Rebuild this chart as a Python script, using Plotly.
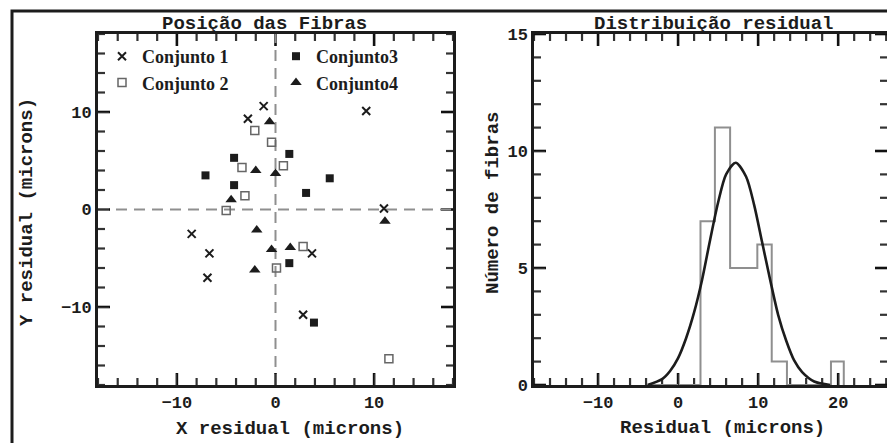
import plotly.graph_objects as go

W, H = 887, 443

# ---- Left panel: fibre positions (microns) ----
c1_x = [-1.2, -2.8, 9.2, 11.0, -8.5, -6.7, -6.9, 3.7, 2.8]
c1_y = [10.6, 9.3, 10.1, 0.1, -2.5, -4.5, -7.0, -4.5, -10.8]
c2_x = [-2.1, -0.4, -3.4, 0.8, -3.1, -5.0, 2.8, 0.1, 11.5]
c2_y = [8.1, 6.9, 4.3, 4.5, 1.4, -0.1, -3.8, -6.0, -15.3]
c3_x = [-4.2, -7.1, 1.4, -4.2, 3.1, 5.5, 1.4, 3.9]
c3_y = [5.3, 3.5, 5.7, 2.5, 1.7, 3.2, -5.5, -11.6]
c4_x = [-0.6, -2.0, 0.0, -4.5, 11.1, -1.9, -0.4, 1.5, -2.1]
c4_y = [9.0, 4.0, 3.7, 1.0, -1.2, -2.1, -4.1, -3.9, -6.2]
series_names = ["Conjunto 1", "Conjunto 2", "Conjunto3", "Conjunto4"]

# ---- Right panel: residual histogram ----
hist_edges = [-3.8, 2.8, 4.6, 6.5, 8.2, 9.9, 11.7, 13.6, 19.1, 20.7]
hist_counts = [0, 7, 11, 5, 5, 6, 1, 0, 1]
gauss_x = [-3.8, -2.0, -1.0, 0.0, 1.0, 2.0, 3.0, 4.0, 5.0, 6.0, 7.2, 8.5,
           9.5, 10.5, 11.5, 12.5, 13.5, 14.5, 15.5, 17.0, 19.0]
gauss_y = [0.0, 0.25, 0.6, 1.15, 2.0, 3.1, 4.5, 6.2, 7.8, 9.0, 9.5, 8.9,
           7.7, 6.1, 4.5, 3.0, 1.9, 1.05, 0.55, 0.15, 0.0]

MONO = "Liberation Mono"
SERIF = "Liberation Serif"
INK = "#1c1c1c"

L_XR, L_YR = [-18, 18], [-18, 18]
R_XR, R_YR = [-18, 26.1], [0, 15]
L_XD = [98 / W, 453 / W]
R_XD = [534 / W, 1.0]
YD = [1 - 385 / H, 1 - 34 / H]

fig = go.Figure()

fig.add_trace(go.Scatter(x=c1_x, y=c1_y, mode="markers", name=series_names[0],
                         marker=dict(symbol="x-thin-open", size=8, line=dict(width=2, color=INK), color=INK),
                         xaxis="x", yaxis="y", legend="legend"))
fig.add_trace(go.Scatter(x=c2_x, y=c2_y, mode="markers", name=series_names[1],
                         marker=dict(symbol="square-open", size=8, line=dict(width=1.5, color="#666"), color="#666"),
                         xaxis="x", yaxis="y", legend="legend"))
fig.add_trace(go.Scatter(x=c3_x, y=c3_y, mode="markers", name=series_names[2],
                         marker=dict(symbol="square", size=8, color=INK),
                         xaxis="x", yaxis="y", legend="legend2"))
fig.add_trace(go.Scatter(x=c4_x, y=c4_y, mode="markers", name=series_names[3],
                         marker=dict(symbol="triangle-up", size=10, color=INK),
                         xaxis="x", yaxis="y", legend="legend2"))

# histogram step outline
sx, sy = [hist_edges[0]], [0]
for i, c in enumerate(hist_counts):
    sx += [hist_edges[i], hist_edges[i + 1]]
    sy += [c, c]
sx.append(hist_edges[-1])
sy.append(0)
fig.add_trace(go.Scatter(x=sx, y=sy, mode="lines", line=dict(color="#8f8f8f", width=2),
                         showlegend=False, xaxis="x2", yaxis="y2"))
fig.add_trace(go.Scatter(x=gauss_x, y=gauss_y, mode="lines", line=dict(color=INK, width=2.6, shape="spline", smoothing=0.8),
                         showlegend=False, xaxis="x2", yaxis="y2"))
# empty helper trace so the label-only y axis of the right panel is drawn
fig.add_trace(go.Scatter(x=[None], y=[None], mode="markers", showlegend=False,
                         hoverinfo="skip", xaxis="x2", yaxis="y3"))

tickfont = dict(family=MONO, size=17, color=INK, weight="bold")
main = dict(showline=True, linewidth=3, linecolor=INK, mirror=True, showgrid=False, zeroline=False,
            automargin=False, tickfont=tickfont, ticks="inside", ticklen=11, tick0=0, tickcolor="#333")

fig.update_layout(
    template="none",
    width=W, height=H, margin=dict(l=0, r=0, t=0, b=0, pad=0), autosize=False,
    paper_bgcolor="white", plot_bgcolor="white",
    xaxis=dict(domain=L_XD, range=L_XR, dtick=10, anchor="y", **main),
    yaxis=dict(domain=YD, range=L_YR, dtick=10, anchor="x", **main),
    xaxis2=dict(domain=R_XD, range=R_XR, dtick=10, anchor="y2", **main),
    yaxis2=dict(domain=YD, range=R_YR, dtick=5, anchor="x2", showticklabels=False, **main),
    yaxis3=dict(overlaying="y2", anchor="free", position=528 / W, side="left",
                range=R_YR, dtick=5, tick0=0, showline=False, ticks="",
                showgrid=False, zeroline=False, automargin=False, tickfont=tickfont),
    legend=dict(x=102 / W, y=1 - 38 / H, xanchor="left", yanchor="top",
                bgcolor="rgba(0,0,0,0)", font=dict(family=SERIF, size=18, color=INK, weight="bold"),
                itemwidth=30, tracegroupgap=0),
    legend2=dict(x=276 / W, y=1 - 38 / H, xanchor="left", yanchor="top",
                 bgcolor="rgba(0,0,0,0)", font=dict(family=SERIF, size=18, color=INK, weight="bold"),
                 itemwidth=30, tracegroupgap=0),
    showlegend=True,
)

# inward tick marks on all four sides of both panels (major long, minor short)
MAJ, MIN = 12, 7
plot_h = (YD[1] - YD[0]) * H


def tick_marks(xref, yref, rng, major, minor_step, horizontal, span_px):
    v = rng[0] - (rng[0] % minor_step)
    vals = []
    while v <= rng[1] + 1e-9:
        if v >= rng[0] - 1e-9:
            vals.append(v)
        v += minor_step
    for val in vals:
        is_major = abs(val / major - round(val / major)) < 1e-9
        ln = (MAJ if is_major else MIN) / span_px
        col = "#111" if is_major else "#333"
        wd = 2.6 if is_major else 2.2
        for a0, a1 in [(0, ln), (1, 1 - ln)]:
            if horizontal:
                fig.add_shape(type="line", xref=xref, yref=yref + " domain", x0=val, x1=val, y0=a0, y1=a1,
                              line=dict(color=col, width=wd), layer="below")
            else:
                fig.add_shape(type="line", xref=xref + " domain", yref=yref, y0=val, y1=val, x0=a0, x1=a1,
                              line=dict(color=col, width=wd), layer="below")


tick_marks("x", "y", L_XR, 10, 2, True, plot_h)
tick_marks("x", "y", L_YR, 10, 2, False, (L_XD[1] - L_XD[0]) * W)
tick_marks("x2", "y2", R_XR, 10, 2, True, plot_h)
tick_marks("x2", "y2", R_YR, 5, 1, False, (R_XD[1] - R_XD[0]) * W)

# dashed zero reference lines (left panel)
fig.add_shape(type="line", xref="x", yref="y domain", x0=0, x1=0, y0=0, y1=1,
              line=dict(color="#8f8f8f", width=2, dash="11px,7px"), layer="below")
fig.add_shape(type="line", xref="x domain", yref="y", x0=0, x1=1, y0=0, y1=0,
              line=dict(color="#8f8f8f", width=2, dash="11px,7px"), layer="below")

# outer frame
fig.add_shape(type="rect", xref="paper", yref="paper", x0=12 / W, x1=1.05, y0=-0.05, y1=1 - 11 / H,
              line=dict(color=INK, width=3), fillcolor="rgba(0,0,0,0)")


def txt(x, y, s, size=18, angle=0):
    fig.add_annotation(x=x / W, y=1 - y / H, xref="paper", yref="paper", text=s, showarrow=False,
                       textangle=angle, xanchor="center", yanchor="middle",
                       font=dict(family=MONO, size=size, color=INK, weight="bold"))


txt(264, 24, "Posição das Fibras", 19)
txt(713, 24, "Distribuição residual", 19)
txt(290, 429, "X residual (microns)", 19)
txt(722, 428, "Residual (microns)", 19)
txt(27, 212, "Y residual (microns)", 19, -90)
txt(493, 203, "Número de fibras", 19, -90)

fig.write_html("out.html")
